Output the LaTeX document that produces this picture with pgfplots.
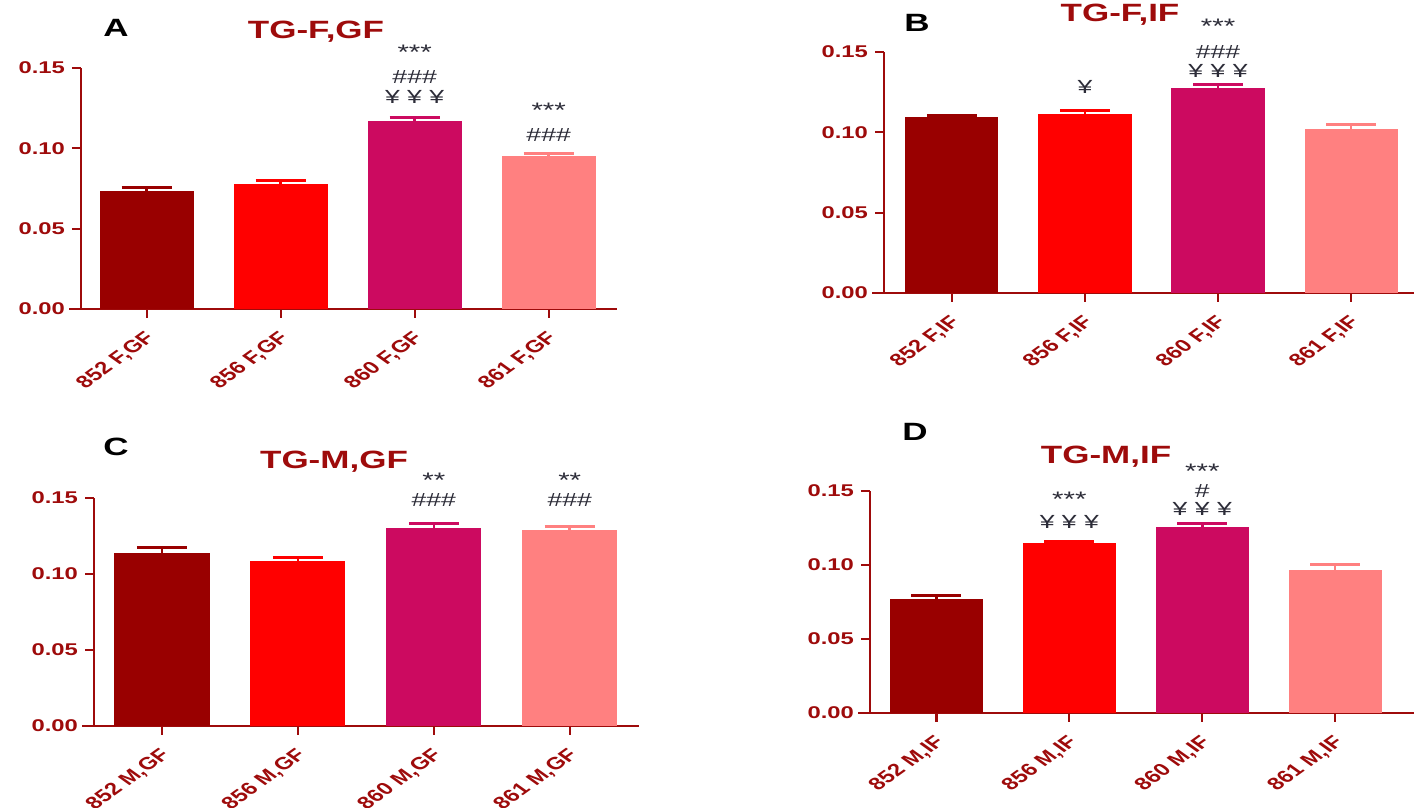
\documentclass[border=0pt]{standalone}
\usepackage{fontspec}
\setmainfont{Liberation Sans}[FakeStretch=1.4]
\newfontfamily\labfont{Liberation Sans}
\usepackage{pgfplots}
\pgfplotsset{compat=1.18}
\definecolor{c1}{HTML}{990000}
\definecolor{c2}{HTML}{FF0000}
\definecolor{c3}{HTML}{CC0A60}
\definecolor{c4}{HTML}{FF8080}
\definecolor{axc}{HTML}{9E0B0B}
\definecolor{annc}{HTML}{2C2C38}
\pgfplotsset{
 panel/.style={
  scale only axis, anchor=south west, clip=false,
  ymin=0, ymax=0.15, ytick={0,0.05,0.1,0.15},
  xtick={0,1,2,3},
  axis x line*=bottom, axis y line*=left,
  axis line style={axc, line width=1.1pt},
  x axis line style={shorten <=-6pt},
  tick style={axc, line width=1.1pt},
  tick align=outside, major tick length=4.5pt,
  ticklabel style={font=\bfseries\fontsize{8.5}{10}\selectfont, text=axc},
  yticklabel style={/pgf/number format/.cd, fixed, fixed zerofill, precision=2, assume math mode=true},
  x tick label style={xscale=1.4, rotate=45, anchor=north east, inner sep=1pt, yshift=-2.5pt, xshift=-4pt,
     font=\labfont\bfseries\fontsize{8.6}{10}\selectfont},
  scaled y ticks=false,
 },
 bar/.style={ybar, bar shift=0pt, bar width=0.7, fill=#1, draw=none,
  error bars/.cd, y dir=plus, y explicit,
  error bar style={#1, line width=1.2pt},
  error mark options={#1, rotate=90, line width=1.5pt, mark size=12.5pt}},
}
\tikzset{ttl/.style={text=axc, font=\bfseries\fontsize{12.5}{14}\selectfont},
 lett/.style={text=black, font=\bfseries\fontsize{12.5}{14}\selectfont},
 ann/.style={text=annc, font=\fontsize{9.5}{10}\selectfont, inner sep=0pt},
 star/.style={text=annc, font=\fontsize{10.5}{10}\selectfont, inner sep=0pt}}
\begin{document}
\begin{tikzpicture}[x=0.5pt,y=0.5pt]
\path[use as bounding box] (0,0) rectangle (1414,808);
% Panel A
\begin{axis}[panel, at={(40.5pt,249.5pt)}, width=268pt, height=120.5pt, xmin=-0.49, xmax=3.51,
  xticklabels={{852 F,GF},{856 F,GF},{860 F,GF},{861 F,GF}}]
\addplot[bar=c1] coordinates {(0,0.0736) +- (0,0.0019)};
\addplot[bar=c2] coordinates {(1,0.0778) +- (0,0.0019)};
\addplot[bar=c3] coordinates {(2,0.1172) +- (0,0.0018)};
\addplot[bar=c4] coordinates {(3,0.0954) +- (0,0.0011)};
\node[star] at (axis cs:2,0.160) {***};
\node[ann] at (axis cs:2,0.1443) {\#\#\#};
\node[ann] at (axis cs:2,0.1319) {¥ ¥ ¥};
\node[star] at (axis cs:3,0.1235) {***};
\node[ann] at (axis cs:3,0.1083) {\#\#\#};
\end{axis}
\node[ttl] at (316,776) {TG-F,GF};
\node[lett] at (116,780) {A};
% Panel B
\begin{axis}[panel, at={(442pt,257.5pt)}, width=273.5pt, height=120.5pt, xmin=-0.51, xmax=3.6,
  xticklabels={{852 F,IF},{856 F,IF},{860 F,IF},{861 F,IF}}]
\addplot[bar=c1] coordinates {(0,0.1097) +- (0,0.0007)};
\addplot[bar=c2] coordinates {(1,0.1112) +- (0,0.0021)};
\addplot[bar=c3] coordinates {(2,0.1274) +- (0,0.0025)};
\addplot[bar=c4] coordinates {(3,0.1021) +- (0,0.0025)};
\node[ann] at (axis cs:1,0.1282) {¥};
\node[star] at (axis cs:2,0.166) {***};
\node[ann] at (axis cs:2,0.150) {\#\#\#};
\node[ann] at (axis cs:2,0.1382) {¥ ¥ ¥};
\end{axis}
\node[ttl] at (1120,793) {TG-F,IF};
\node[lett] at (917,785) {B};
% Panel C
\begin{axis}[panel, at={(47pt,41pt)}, width=272.5pt, height=114pt, xmin=-0.5, xmax=3.51,
  xticklabels={{852 M,GF},{856 M,GF},{860 M,GF},{861 M,GF}}]
\addplot[bar=c1] coordinates {(0,0.1135) +- (0,0.0041)};
\addplot[bar=c2] coordinates {(1,0.1084) +- (0,0.0022)};
\addplot[bar=c3] coordinates {(2,0.1303) +- (0,0.0029)};
\addplot[bar=c4] coordinates {(3,0.1292) +- (0,0.0022)};
\node[star] at (axis cs:2,0.1615) {**};
\node[ann] at (axis cs:2,0.1487) {\#\#\#};
\node[star] at (axis cs:3,0.1615) {**};
\node[ann] at (axis cs:3,0.1487) {\#\#\#};
\end{axis}
\node[ttl] at (334,346) {TG-M,GF};
\node[lett] at (116,361) {C};
% Panel D
\begin{axis}[panel, at={(435pt,47.5pt)}, width=272.5pt, height=111pt, xmin=-0.5, xmax=3.6,
  xticklabels={{852 M,IF},{856 M,IF},{860 M,IF},{861 M,IF}}]
\addplot[bar=c1] coordinates {(0,0.0769) +- (0,0.0025)};
\addplot[bar=c2] coordinates {(1,0.1152) +- (0,0.0008)};
\addplot[bar=c3] coordinates {(2,0.1260) +- (0,0.0022)};
\addplot[bar=c4] coordinates {(3,0.0963) +- (0,0.0042)};
\node[star] at (axis cs:1,0.1445) {***};
\node[ann] at (axis cs:1,0.129) {¥ ¥ ¥};
\node[star] at (axis cs:2,0.1635) {***};
\node[ann] at (axis cs:2,0.150) {\#};
\node[ann] at (axis cs:2,0.138) {¥ ¥ ¥};
\end{axis}
\node[ttl] at (1106,351) {TG-M,IF};
\node[lett] at (915,376) {D};
\end{tikzpicture}
\end{document}
